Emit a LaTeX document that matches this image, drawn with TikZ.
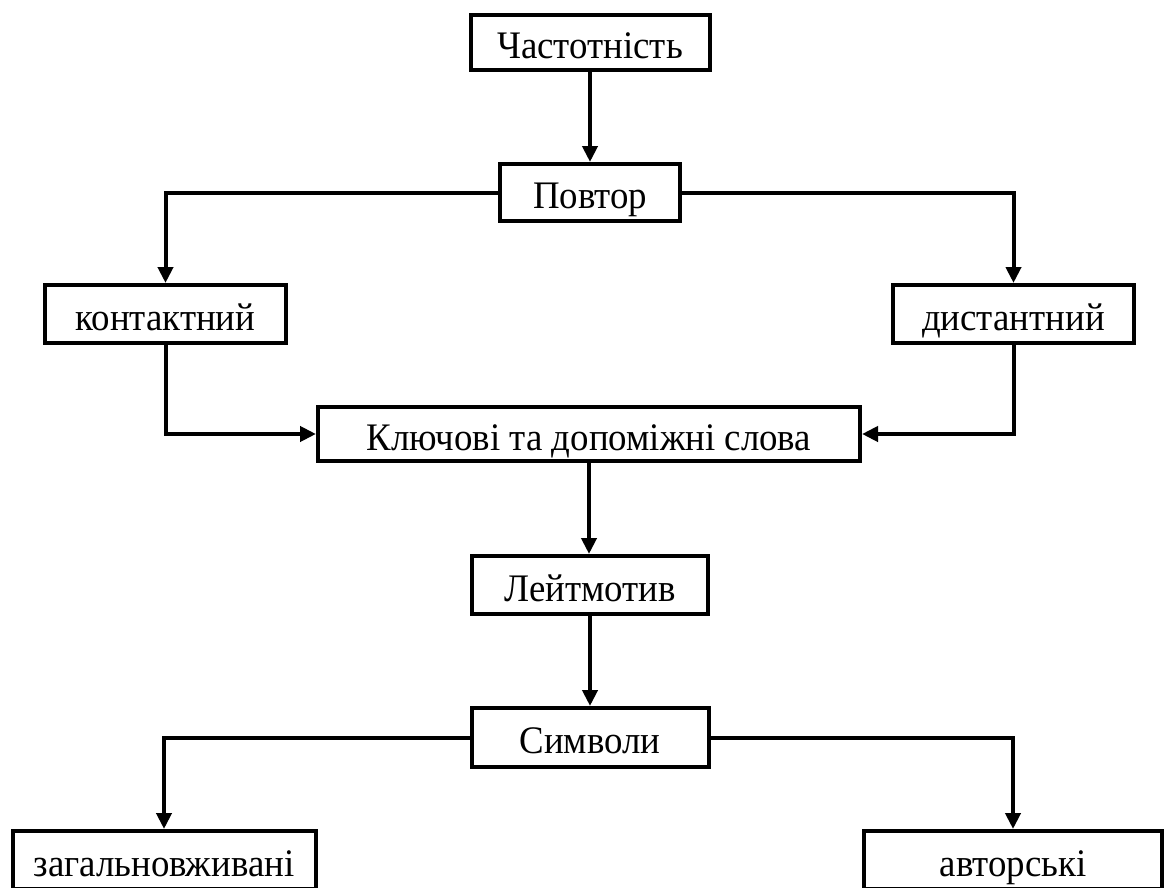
\documentclass[tikz,border=0pt]{standalone}
\usepackage{fontspec}
\setmainfont[FakeStretch=0.945]{Liberation Serif}
\usetikzlibrary{arrows.meta}

\tikzset{
  blok/.style={draw, line width=4pt, inner sep=0pt, text height=34pt, text depth=2pt,
    font=\fontsize{39}{41}\selectfont},
  strilka/.style={line width=4pt, -{Triangle[length=16pt,width=15pt]}}
}

\begin{document}
\begin{tikzpicture}[x=1pt,y=-1pt]
\useasboundingbox (0,0) rectangle (1164,888);
\clip (0,0) rectangle (1164,888);
\node[blok, minimum width=239pt, minimum height=55pt] (chast) at (590,42.5) {Частотність};
\node[blok, minimum width=180pt, minimum height=57pt] (povtor) at (590,192.5) {Повтор};
\node[blok, minimum width=241pt, minimum height=58pt] (kont) at (165.5,314) {контактний};
\node[blok, minimum width=241pt, minimum height=58pt] (dyst) at (1013.5,314) {дистантний};
\node[blok, minimum width=542pt, minimum height=54pt] (klyuch) at (589,434) {Ключові та допоміжні слова};
\node[blok, minimum width=236pt, minimum height=58pt] (leit) at (590,585) {Лейтмотив};
\node[blok, minimum width=237pt, minimum height=59pt] (symv) at (590,737.5) {Символи};
\node[blok, minimum width=303pt, minimum height=58pt] (zah) at (164,860) {загальновживані};
\node[blok, minimum width=298pt, minimum height=58pt] (avt) at (1013,860) {авторські};
\draw[strilka] (chast) -- (povtor);
\draw[strilka] (povtor.west) -| (kont.north);
\draw[strilka] (povtor.east) -| (dyst.north);
\draw[strilka] (kont.south) |- (klyuch.west);
\draw[strilka] (dyst.south) |- (klyuch.east);
\draw[strilka] (klyuch.south) -- (klyuch.south |- leit.north);
\draw[strilka] (leit) -- (symv);
\draw[strilka] (symv.west) -| (zah.north);
\draw[strilka] (symv.east) -| (avt.north);
\end{tikzpicture}
\end{document}
